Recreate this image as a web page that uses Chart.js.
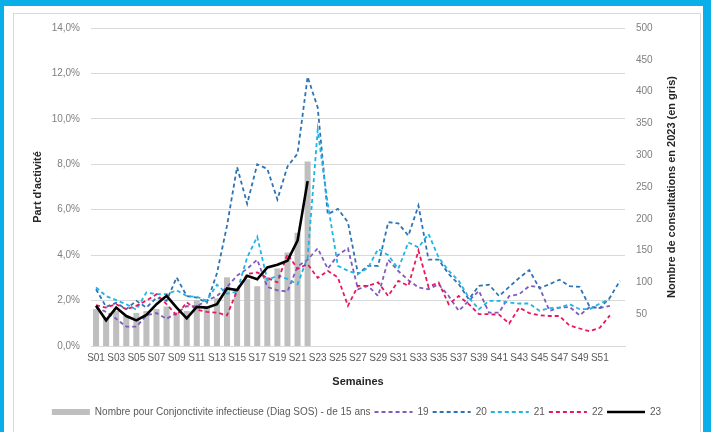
<!DOCTYPE html>
<html>
<head>
<meta charset="utf-8">
<script src="https://cdn.jsdelivr.net/npm/chart.js@4.4.1/dist/chart.umd.min.js"></script>
<style>
  html, body { margin: 0; padding: 0; }
  body { width: 711px; height: 432px; background: #0AAEE8; position: relative; overflow: hidden; }
  #card { position: absolute; left: 4px; top: 6px; width: 699px; height: 430px; background: #fff; }
  #inner { position: absolute; left: 13px; top: 13px; width: 688px; height: 430px; border: 1px solid #D9D9D9; box-sizing: border-box; }
  #wrap { position: absolute; left: 0; top: 0; width: 711px; height: 432px; }
</style>
</head>
<body>
<div id="card"></div>
<div id="inner"></div>
<div id="wrap"><canvas id="chart" width="711" height="432"></canvas></div>
<script>
// semaines S01..S53 (2020 a une S53)
const weeks = [];
for (let i = 1; i <= 53; i++) weeks.push('S' + String(i).padStart(2, '0'));

// nombre de consultations 2023 (axe droit)
const count23 = [58, 45, 55, 48, 52, 55, 58, 62, 52, 55, 72, 60, 75, 108, 90, 105, 94, 108, 122, 147, 178, 290];

// part d'activite (%) par annee
const pct19 = [1.7, 1.5, 1.2, 0.85, 0.85, 1.35, 1.45, 1.2, 1.45, 1.75, 1.75, 2.0, 2.2, 2.6, 3.1, 3.4, 3.8, 2.6, 2.45, 2.4,
  3.5, 3.8, 4.3, 3.4, 4.0, 4.3, 2.5, 2.65, 2.2, 3.8, 3.3, 2.9, 2.58, 2.5, 2.72, 2.2, 1.55, 1.99, 2.43, 1.47,
  1.47, 2.2, 2.28, 2.64, 2.6, 1.55, 1.69, 1.72, 1.35, 1.72, 1.67, 1.77, null];
const pct20 = [2.5, 1.72, 1.9, 1.62, 1.99, 1.69, 2.13, 1.99, 3.02, 2.2, 2.13, 1.9, 3.2, 5.3, 7.88, 6.26, 8.0, 7.8, 6.45, 7.9,
  8.47, 11.85, 10.5, 5.8, 6.04, 5.45, 3.17, 3.53, 3.53, 5.45, 5.4, 4.86, 6.18, 3.8, 3.8, 3.17, 2.72, 2.06, 2.65, 2.7,
  2.2, 2.6, 3.0, 3.34, 2.55, 2.72, 2.92, 2.64, 2.6, 1.72, 1.67, 2.13, 2.87];
const pct21 = [2.58, 2.2, 2.02, 1.84, 1.6, 2.36, 2.28, 2.28, 2.45, 2.2, 2.16, 2.0, 2.7, 2.3, 2.4, 3.9, 4.81, 2.9, 3.1, 2.95,
  2.72, 3.9, 9.5, 6.26, 3.53, 3.31, 3.17, 3.45, 4.27, 4.0, 3.4, 4.56, 4.34, 4.93, 3.9, 3.31, 2.87, 2.13, 1.62, 1.99,
  1.99, 1.91, 1.87, 1.87, 1.55, 1.67, 1.69, 1.84, 1.62, 1.62, 1.87, 2.06, null];
const pct22 = [1.8, 1.69, 1.84, 1.62, 1.77, 2.0, 2.28, 1.84, 1.35, 1.92, 1.6, 1.5, 1.47, 1.35, 2.43, 3.17, 3.24, 3.0, 2.8, 4.05,
  3.4, 3.6, 3.0, 3.31, 3.02, 1.77, 2.65, 2.65, 2.8, 2.2, 2.87, 2.65, 4.2, 2.6, 2.8, 1.84, 2.2, 1.84, 1.4, 1.4,
  1.38, 0.99, 1.69, 1.45, 1.35, 1.32, 1.32, 0.9, 0.77, 0.65, 0.8, 1.35, null];
const pct23 = [1.77, 1.13, 1.69, 1.32, 1.13, 1.37, 1.84, 2.21, 1.69, 1.22, 1.72, 1.69, 1.84, 2.53, 2.46, 3.09, 2.94, 3.46, 3.58, 3.75,
  4.64, 7.26];

const leftTitle = "Part d'activité";
const rightTitle = 'Nombre de consultations en 2023 (en gris)';
const barLabel = 'Nombre pour Conjonctivite infectieuse (Diag SOS) - de 15 ans';

const FONT = '"Liberation Sans", Arial, sans-serif';

const rightTitlePlugin = {
  id: 'rightTitle',
  afterDraw(chart) {
    const s = chart.scales.y2;
    const ctx = chart.ctx;
    const area = chart.chartArea;
    ctx.save();
    ctx.translate(s.left + 47, (area.top + area.bottom) / 2);
    ctx.rotate(-Math.PI / 2);
    ctx.font = 'bold 11px ' + FONT;
    ctx.fillStyle = '#262626';
    ctx.textAlign = 'center';
    ctx.textBaseline = 'middle';
    ctx.fillText(rightTitle, 0, 0);
    ctx.restore();
  }
};

function lineSet(label, data, color, order) {
  return {
    type: 'line', label: label, data: data, yAxisID: 'y',
    borderColor: color, backgroundColor: color,
    borderWidth: 1.8, borderDash: [4, 3], pointRadius: 0, pointStyle: 'line',
    tension: 0, spanGaps: false, order: order
  };
}

new Chart(document.getElementById('chart'), {
  type: 'bar',
  data: {
    labels: weeks,
    datasets: [
      {
        label: barLabel, data: count23, yAxisID: 'y2',
        backgroundColor: '#BFBFBF', borderWidth: 0,
        barPercentage: 0.6, categoryPercentage: 1.0,
        pointStyle: 'rect', order: 6
      },
      lineSet('19', pct19, '#7F5BBF', 5),
      lineSet('20', pct20, '#2E74B5', 4),
      lineSet('21', pct21, '#1EB4E8', 3),
      lineSet('22', pct22, '#E9175F', 2),
      {
        type: 'line', label: '23', data: pct23, yAxisID: 'y',
        borderColor: '#000000', backgroundColor: '#000000',
        borderWidth: 2.6, pointRadius: 0, pointStyle: 'line', tension: 0, order: 1
      }
    ]
  },
  options: {
    responsive: false,
    animation: false,
    layout: { padding: { left: 13, right: 11, top: 28, bottom: 5 } },
    scales: {
      x: {
        offset: true,
        grid: { display: false, drawTicks: false },
        border: { color: '#D9D9D9' },
        ticks: {
          autoSkip: false, maxRotation: 0, minRotation: 0, padding: 6,
          color: '#595959', font: { family: FONT, size: 10 },
          callback: function (v, i) { return (i % 2 === 0 && i < 52) ? weeks[i] : ''; }
        },
        title: { display: true, text: 'Semaines', color: '#262626', font: { family: FONT, size: 11, weight: 'bold' }, padding: { top: 4, bottom: 14 } },
        afterFit: function (s) { s.height = 57; }
      },
      y: {
        position: 'left', min: 0, max: 14,
        grid: { color: '#D9D9D9', drawTicks: false },
        border: { display: false },
        ticks: {
          stepSize: 2, padding: 11, color: '#7F7F7F', font: { family: FONT, size: 10 },
          callback: function (v) { return v.toFixed(1).replace('.', ',') + '%'; }
        },
        title: { display: true, text: leftTitle, color: '#262626', font: { family: FONT, size: 11, weight: 'bold' }, padding: { top: 18, bottom: 0 } },
        afterFit: function (s) { s.width = 78; }
      },
      y2: {
        position: 'right', min: 0, max: 500,
        grid: { display: false, drawTicks: false },
        border: { display: false },
        ticks: {
          stepSize: 50, padding: 11, color: '#7F7F7F', font: { family: FONT, size: 10 },
          callback: function (v) { return v === 0 ? '' : v; }
        },
        afterFit: function (s) { s.width = 75; }
      }
    },
    plugins: {
      tooltip: { enabled: false },
      legend: {
        position: 'bottom',
        labels: {
          usePointStyle: true, pointStyleWidth: 38, boxHeight: 6, padding: 4,
          color: '#595959', font: { family: FONT, size: 10 },
          sort: function (a, b) { return a.datasetIndex - b.datasetIndex; },
          generateLabels: function (chart) {
            const items = Chart.defaults.plugins.legend.labels.generateLabels(chart);
            items.forEach(function (it) {
              const ds = chart.data.datasets[it.datasetIndex];
              it.lineDash = ds.borderDash || [];
              it.lineWidth = ds.type === 'line' ? ds.borderWidth : 0;
              it.strokeStyle = ds.borderColor || ds.backgroundColor;
            });
            return items;
          }
        }
      }
    }
  },
  plugins: [rightTitlePlugin]
});
</script>
</body>
</html>
